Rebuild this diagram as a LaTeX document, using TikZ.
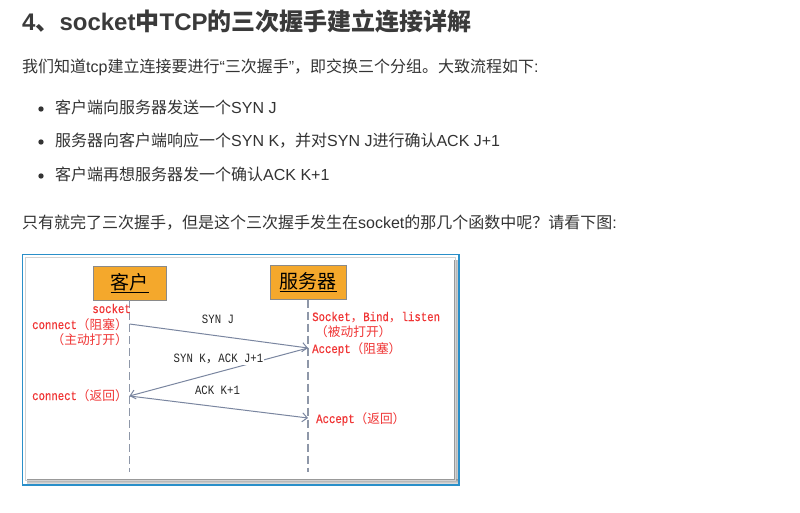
\documentclass[tikz,border=0pt]{standalone}
\usepackage{fontspec}
\setmainfont{Liberation Sans}
\newfontfamily\zh{Noto Sans CJK SC}
\newfontfamily\dmono{Liberation Mono}[FakeStretch=0.84]
\newfontfamily\dmonored{Liberation Mono}[FakeStretch=0.84, FakeBold=0.5]
\usetikzlibrary{arrows.meta}
\definecolor{pagetext}{HTML}{333333}
\definecolor{headtext}{HTML}{3A3A3A}
\definecolor{frameblue}{HTML}{2A8FC9}
\definecolor{actorfill}{HTML}{F4A82C}
\definecolor{actorline}{HTML}{8A8A8A}
\definecolor{lifegray}{HTML}{8E97A8}
\definecolor{msggray}{HTML}{7A86A0}
\definecolor{labelred}{HTML}{F03535}
\newcommand{\cn}[1]{{\zh #1}}
\newcommand{\dcn}[1]{{\zh\fontsize{12.7}{14}\selectfont #1}}

\tikzset{
  bodytext/.style={anchor=base west, inner sep=0pt, text=pagetext, font=\fontsize{16}{19}\selectfont},
  actor/.style={draw=actorline, fill=actorfill, minimum height=34pt, inner sep=0pt, text=black, font=\zh\fontsize{19}{20}\selectfont},
  lifeline/.style={draw=lifegray, line width=1.3pt, dash pattern=on 8pt off 4pt},
  msgline/.style={draw=msggray, line width=1pt, -{Straight Barb[length=5pt,width=9pt]}},
  msgtext/.style={fill=white, inner sep=1pt, text=black!85, font=\dmono\fontsize{12.7}{14}\selectfont},
  redtext/.style={inner sep=0pt, text=labelred, font=\dmonored\fontsize{12.7}{14}\selectfont},
}

\begin{document}
\begin{tikzpicture}[x=1pt, y=-1pt]
\useasboundingbox (0,0) rectangle (800,513); %page size
\fill[white] (0,0) rectangle (800,513); %page background

% page text
\node[anchor=base west, inner sep=0pt, text=headtext, font=\fontsize{24}{28}\selectfont\bfseries] (title) at (22,31) {4\cn{、}socket\cn{中}TCP\cn{的三次握手建立连接详解}};
\node[bodytext] (intro) at (22,73) {\cn{我们知道}tcp\cn{建立连接要进行}“\cn{三次握手}”\cn{，即交换三个分组。大致流程如下}:};
\fill[pagetext] (41,109) circle (2.7pt); %bullet 1
\node[bodytext] (step1) at (55,114) {\cn{客户端向服务器发送一个}SYN J};
\fill[pagetext] (41,142) circle (2.7pt); %bullet 2
\node[bodytext] (step2) at (55,147) {\cn{服务器向客户端响应一个}SYN K\cn{，并对}SYN J\cn{进行确认}ACK J+1};
\fill[pagetext] (41,176) circle (2.7pt); %bullet 3
\node[bodytext] (step3) at (55,181) {\cn{客户端再想服务器发一个确认}ACK K+1};
\node[bodytext] (outro) at (22,228) {\cn{只有就完了三次握手，但是这个三次握手发生在}socket\cn{的那几个函数中呢？请看下图}:};

% picture frame
\shade[left color=gray!80, right color=gray!30] (454,260) rectangle (458,483); %right shadow
\shade[top color=gray!80, bottom color=gray!30] (27,479) rectangle (458,483); %bottom shadow
\draw[gray!35] (25,257) rectangle (455,480); %image border
\draw[frameblue, line width=1.2pt] (22.5,254.5) rectangle (459,485); %outer border

% actors and lifelines
\node[actor, minimum width=73pt] (client) at (129.5,283) {\underline{客户}};
\node[actor, minimum width=76pt] (server) at (308,282.5) {\underline{服务器}};
\coordinate (cend) at (129.5,472);
\coordinate (send) at (308,472);
\draw[lifeline] (client.south) -- (cend);
\draw[lifeline] (server.south) -- (send);

% handshake points
\coordinate (c1) at (129.5,324);
\coordinate (s1) at (308,348);
\coordinate (c2) at (129.5,396);
\coordinate (s2) at (308,418);
\draw[msgline] (c1) -- (s1); %first
\draw[msgline] (s1) -- (c2); %second
\draw[msgline] (c2) -- (s2); %third
\node[msgtext] (synj) at (218,319) {SYN J};
\node[msgtext] (synk) at (218.5,359) {SYN K\dcn{，}ACK J+1};
\node[msgtext] (ackk) at (217.5,390) {ACK K+1};

% client calls
\node[redtext, anchor=base east] (sock) at (131,313) {socket};
\node[redtext, anchor=base east] (conblk) at (128,329) {connect\dcn{（阻塞）}};
\node[redtext, anchor=base east] (actopen) at (128,344) {\dcn{（主动打开）}};
\node[redtext, anchor=base east] (conret) at (128,400) {connect\dcn{（返回）}};

% server calls
\node[redtext, anchor=base west] (srvcall) at (312,321) {Socket\dcn{，}Bind\dcn{，}listen};
\node[redtext, anchor=base west] (pasopen) at (315,336) {\dcn{（被动打开）}};
\node[redtext, anchor=base west] (accblk) at (312,353) {Accept\dcn{（阻塞）}};
\node[redtext, anchor=base west] (accret) at (316,423) {Accept\dcn{（返回）}};
\end{tikzpicture}
\end{document}
